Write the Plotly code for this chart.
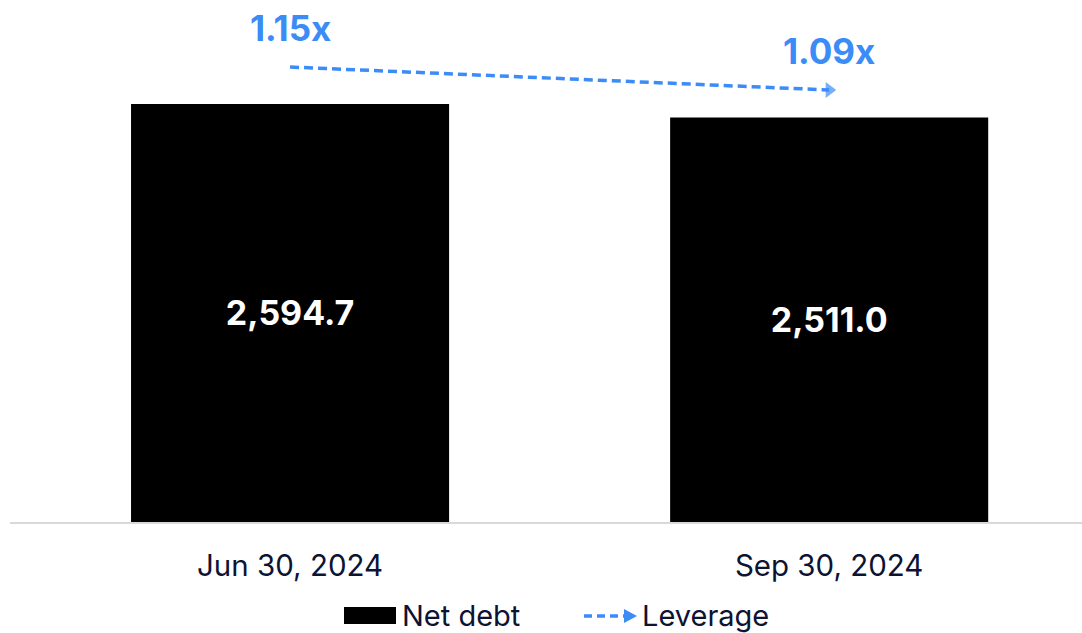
import plotly.graph_objects as go

# Net debt by quarter end and the corresponding leverage ratio
periods = ["Jun 30, 2024", "Sep 30, 2024"]
net_debt = [2594.7, 2511.0]
net_debt_labels = ["2,594.7", "2,511.0"]
leverage = [1.15, 1.09]
leverage_labels = ["1.15x", "1.09x"]

W, H = 1082, 633
ML, MR, MT, MB = 10, 0, 0, 111
PW, PH = W - ML - MR, H - MT - MB

BLUE = "#3b8cf7"
NAVY = "#0d1333"
FONT = "Inter"


def px(xp):
    return (xp - ML) / PW


def py(yp):
    return (MT + PH - yp) / PH


fig = go.Figure()

fig.add_trace(go.Bar(
    x=[0, 1], y=net_debt, width=0.59,
    marker=dict(color="#000000", line=dict(width=0)),
    text=net_debt_labels, textposition="inside", insidetextanchor="middle",
    textfont=dict(family=FONT, size=34, color="white", weight="bold"),
    textangle=0, name="Net debt", showlegend=False, hoverinfo="skip",
))

fig.add_trace(go.Scatter(
    x=[0, 1], y=leverage, yaxis="y2", mode="lines+markers",
    line=dict(color=BLUE, width=3.5, dash="9px,5px"),
    marker=dict(symbol=["circle", "triangle-right"], size=[0, 14], color=BLUE,
                line=dict(width=0)),
    name="Leverage", showlegend=False, hoverinfo="skip",
))

annotations = []
for i, (v, lab) in enumerate(zip(leverage, leverage_labels)):
    annotations.append(dict(
        x=i, y=v, xref="x", yref="y2", text=f"<b>{lab}</b>", showarrow=False,
        yshift=39, font=dict(family=FONT, size=35, color=BLUE),
    ))

# Legend row along the bottom edge
LEG_Y = 615
shapes = [
    dict(type="rect", xref="paper", yref="paper", x0=px(344), x1=px(396),
         y0=py(LEG_Y + 9), y1=py(LEG_Y - 8), fillcolor="#000000", line=dict(width=0)),
    dict(type="line", xref="paper", yref="paper", x0=px(584), x1=px(625),
         y0=py(LEG_Y + 1), y1=py(LEG_Y + 1), line=dict(color=BLUE, width=3.5, dash="8px,5px")),
    dict(type="path", xref="paper", yref="paper",
         path=(f"M {px(624)} {py(LEG_Y - 6)} L {px(637)} {py(LEG_Y + 1)} "
               f"L {px(624)} {py(LEG_Y + 8)} Z"),
         fillcolor=BLUE, line=dict(width=0)),
]
annotations += [
    dict(x=px(400), y=py(LEG_Y), xref="paper", yref="paper", text="Net debt",
         showarrow=False, xanchor="left", yanchor="middle",
         font=dict(family=FONT, size=29, color=NAVY)),
    dict(x=px(640), y=py(LEG_Y), xref="paper", yref="paper", text="Leverage",
         showarrow=False, xanchor="left", yanchor="middle",
         font=dict(family=FONT, size=29, color=NAVY)),
]

fig.update_layout(
    width=W, height=H,
    margin=dict(l=ML, r=MR, t=MT, b=MB),
    paper_bgcolor="white", plot_bgcolor="white",
    showlegend=False,
    xaxis=dict(
        range=[-0.5195, 1.469], tickmode="array", tickvals=[0, 1], ticktext=periods,
        showgrid=False, zeroline=False, showline=True, linecolor="#d9d9d9",
        linewidth=2, ticks="", ticklabelstandoff=17,
        tickfont=dict(family=FONT, size=29.5, color=NAVY),
    ),
    yaxis=dict(range=[0, 3240], visible=False, showgrid=False, zeroline=False),
    yaxis2=dict(range=[-0.0371, 1.3248], overlaying="y", visible=False,
                showgrid=False, zeroline=False),
    shapes=shapes, annotations=annotations,
)

fig.write_html("out.html")
